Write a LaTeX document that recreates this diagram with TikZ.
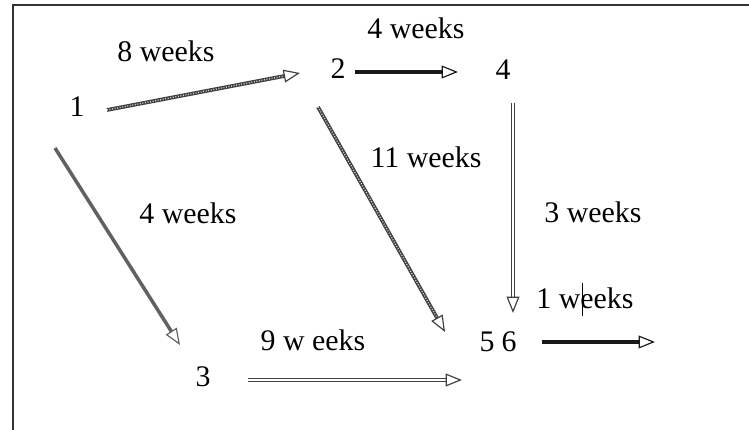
\documentclass[tikz,border=0pt]{standalone}
\usepackage{fontspec}
\setmainfont{Liberation Serif}
\usepackage{tikz}
\usetikzlibrary{arrows.meta}

\begin{document}
\begin{tikzpicture}[x=0.03cm, y=-0.03cm,
    every node/.style={font=\fontsize{25.5}{30}\selectfont, inner sep=1pt},
    tip/.style={-{Triangle[open, length=14pt, width=11pt, line width=1pt]}},
    hatchline/.style={tip, line width=3.2pt, draw=black!75,
      postaction={draw=white!85!black, -, line width=1.1pt, dash pattern=on 0.8pt off 1.4pt, shorten >=15pt}},
    greyline/.style={tip, line width=3pt, draw=black!62},
    blackline/.style={tip, line width=3pt, draw=black!90},
    twinline/.style={tip, line width=1.2pt, draw=black!75, double=white, double distance=1.6pt}]
  \useasboundingbox (0,0) rectangle (749,430);
  \draw[black!80, line width=1.8pt] (13,430) -- (13,5) -- (749,5);
  % events
  \node (n1) at (77,107) {1};
  \node (n2) at (338,69) {2};
  \node (n3) at (203,377) {3};
  \node (n4) at (503,70) {4};
  \node (n5) at (487,342) {5};
  \node (n6) at (509,342) {6};
  % durations
  \node (w12) at (166,51) {8 weeks};
  \node (w24) at (416,28) {4 weeks};
  \node (w13) at (188,213) {4 weeks};
  \node (w25) at (426,157) {11 weeks};
  \node (w45) at (593,212) {3 weeks};
  \node (w35) at (313,340) {9 w eeks};
  \node (w6) at (585,298) {1 weeks};
  \draw[line width=1pt] ([xshift=-2pt]w6.center) +(0,-15) -- +(0,18);
  % arrow ends
  \coordinate (a1) at (107,110);
  \coordinate (b2) at (300,73);
  \coordinate (a2) at (355,72);
  \coordinate (b4) at (458,72);
  \coordinate (c2) at (318,107);
  \coordinate (d5) at (445,332);
  \coordinate (c1) at (55,148);
  \coordinate (d3) at (180,345);
  \coordinate (a4) at (513,103);
  \coordinate (b5) at (513,313);
  \coordinate (a3) at (248,380);
  \coordinate (b3) at (462,380);
  \coordinate (a6) at (542,342);
  \coordinate (e6) at (655,342);
  \draw[hatchline] (a1) -- (b2);
  \draw[blackline] (a2) -- (b4);
  \draw[hatchline] (c2) -- (d5);
  \draw[greyline] (c1) -- (d3);
  \draw[twinline] (a4) -- (b5);
  \draw[twinline] (a3) -- (b3);
  \draw[blackline] (a6) -- (e6);
\end{tikzpicture}
\end{document}
